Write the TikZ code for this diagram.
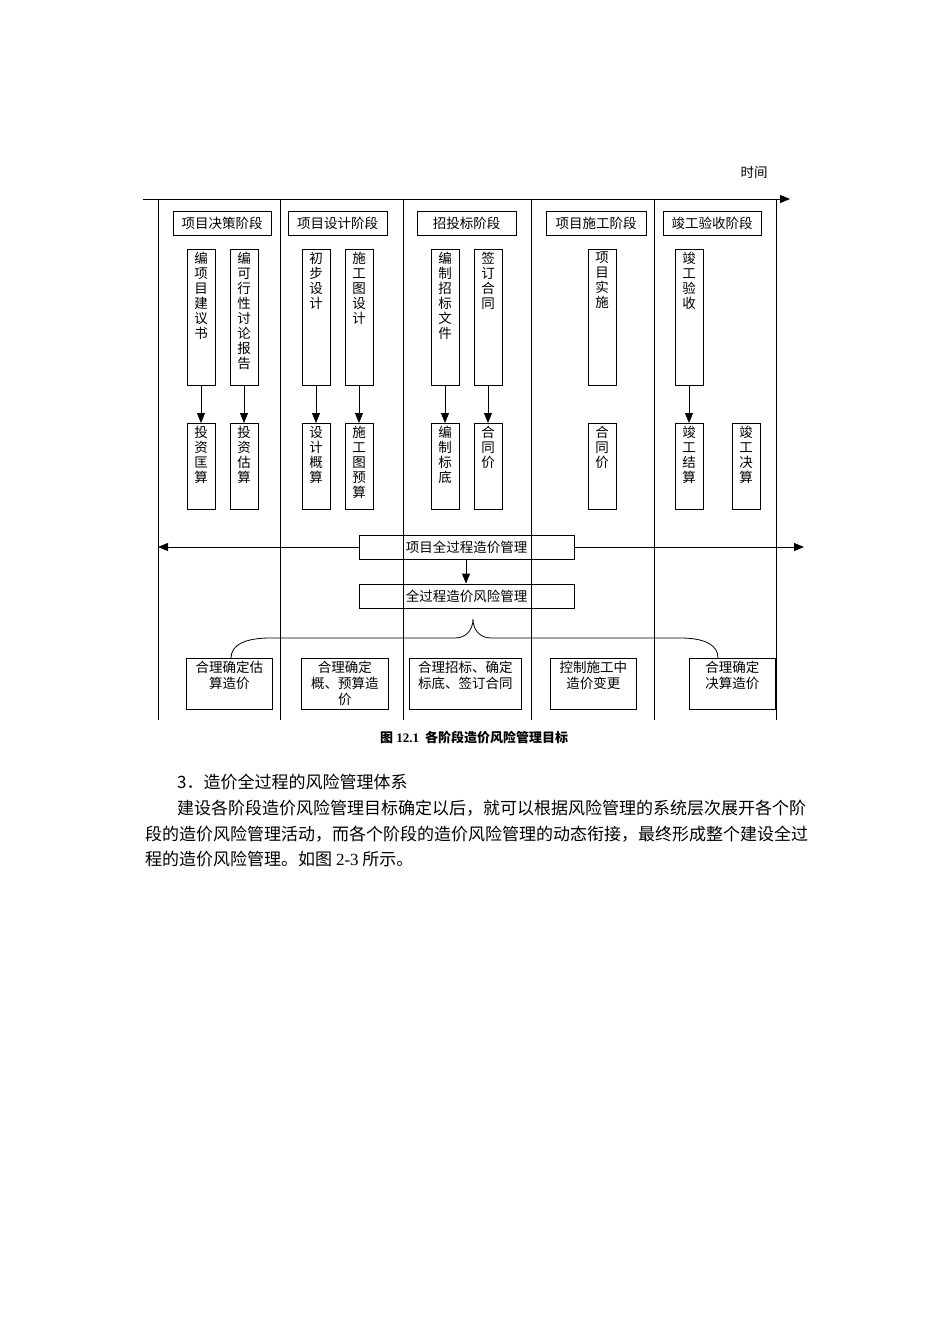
\documentclass[tikz,border=0pt]{standalone}
\usepackage{fontspec}
\setmainfont{Liberation Serif}
\newfontfamily\cjk{Noto Sans CJK SC}
\usetikzlibrary{arrows.meta}
\begin{document}
\begin{tikzpicture}[x=1pt,y=-1pt,
  lbl/.style={draw,thick,minimum height=24pt,font=\cjk\fontsize{13.5}{15}\selectfont,inner sep=1pt},
  col/.style={draw,thick,minimum width=28pt,anchor=north,font=\cjk\fontsize{13.5}{15}\selectfont,align=center,inner sep=0pt},
  goal/.style={draw,thick,minimum height=51pt,anchor=north west},
  goaltxt/.style={anchor=north,font=\cjk\fontsize{13.5}{16}\selectfont,align=center,inner sep=0pt},
  arr/.style={-{Triangle[length=10pt,width=8pt]},thick},
  txt/.style={font=\cjk\fontsize{17}{20}\selectfont,anchor=west,inner sep=0pt}]
\useasboundingbox (0,0) rectangle (950,1344);
% axes
\coordinate (tl) at (143,199); \coordinate (tr) at (790,199);
\draw[arr] (tl) -- (tr);
\node[font=\cjk\fontsize{13.5}{15}\selectfont] (time) at (754,172) {时间};
\foreach \x/\n in {158/v0,280/v1,403/v2,531/v3,654/v4,776/v5}{
  \coordinate (\n a) at (\x,199); \coordinate (\n b) at (\x,720);
  \draw[thick] (\n a) -- (\n b);}
% phase headers
\node[lbl,minimum width=98pt] (p1) at (222,223) {项目决策阶段};
\node[lbl,minimum width=99pt] (p2) at (337.5,223) {项目设计阶段};
\node[lbl,minimum width=99pt] (p3) at (466.5,223) {招投标阶段};
\node[lbl,minimum width=100pt] (p4) at (596,223) {项目施工阶段};
\node[lbl,minimum width=98pt] (p5) at (712,223) {竣工验收阶段};
% top column boxes
\foreach \x/\n/\t in {201/a1/{编\\项\\目\\建\\议\\书},244/a2/{编\\可\\行\\性\\讨\\论\\报\\告},316/a3/{初\\步\\设\\计},359/a4/{施\\工\\图\\设\\计},445/a5/{编\\制\\招\\标\\文\\件},488/a6/{签\\订\\合\\同},602/a7/{项\\目\\实\\施},689/a8/{竣\\工\\验\\收}}{
  \node[col,minimum height=136pt] (\n) at (\x,249) {};
  \node[anchor=north,font=\cjk\fontsize{13.5}{15}\selectfont,align=center,inner sep=0pt] at (\x,252) {\t};}
\foreach \x/\n/\t in {201/b1/{投\\资\\匡\\算},244/b2/{投\\资\\估\\算},316/b3/{设\\计\\概\\算},359/b4/{施\\工\\图\\预\\算},445/b5/{编\\制\\标\\底},488/b6/{合\\同\\价},602/b7/{合\\同\\价},689/b8/{竣\\工\\结\\算},746/b9/{竣\\工\\决\\算}}{
  \node[col,minimum height=86pt] (\n) at (\x,423) {};
  \node[anchor=north,font=\cjk\fontsize{13.5}{15}\selectfont,align=center,inner sep=0pt] at (\x,426) {\t};}
\foreach \i in {1,2,3,4,5,6,8}{\draw[arr] (a\i.south) -- (b\i.north);}
% management
\node[lbl,minimum width=215pt] (m1) at (466.5,547) {项目全过程造价管理};
\node[lbl,minimum width=215pt] (m2) at (466.5,596) {全过程造价风险管理};
\coordinate (hl) at (158,547); \coordinate (hr) at (804,547);
\draw[arr] (m1.west) -- (hl);
\draw[arr] (m1.east) -- (hr);
\draw[arr] (m1.south -| 466,0) -- (m2.north -| 466,0);
% goals
\node[goal,minimum width=86pt] (g1) at (186,658) {};
\node[goal,minimum width=87pt] (g2) at (301,658) {};
\node[goal,minimum width=112pt] (g3) at (409,658) {};
\node[goal,minimum width=86pt] (g4) at (550,658) {};
\node[goal,minimum width=86pt] (g5) at (689,658) {};
\node[goaltxt] at (g1.north) [yshift=-3pt] {合理确定估\\算造价};
\node[goaltxt] at (g2.north) [yshift=-3pt] {合理确定\\概、预算造\\价};
\node[goaltxt] at (g3.north) [yshift=-3pt] {合理招标、确定\\标底、签订合同};
\node[goaltxt] at (g4.north) [yshift=-3pt] {控制施工中\\造价变更};
\node[goaltxt] at (g5.north) [yshift=-3pt] {合理确定\\决算造价};
% brace
\coordinate (bt) at (473,619);
\draw[thick] (231,658) .. controls (231,645) and (245,638) .. (270,638) -- (455,638)
  .. controls (466,638) and (473,630) .. (bt)
  .. controls (473,630) and (480,638) .. (491,638) -- (680,638)
  .. controls (705,638) and (718,645) .. (718,658);
% caption
\node[font=\bfseries\fontsize{13}{15}\selectfont] (cap) at (474,738) {{\cjk\bfseries 图} 12.1\hspace{6pt}{\cjk\bfseries 各阶段造价风险管理目标}};
% paragraph
\node[txt] (t0) at (177,782) {3．造价全过程的风险管理体系};
\node[txt] (t1) at (177,808) {\cjk 建设各阶段造价风险管理目标确定以后，就可以根据风险管理的系统层次展开各个阶};
\node[txt] (t2) at (145,834) {\cjk 段的造价风险管理活动，而各个阶段的造价风险管理的动态衔接，最终形成整个建设全过};
\node[txt] (t3) at (145,859) {\cjk 程的造价风险管理。如图 {\rmfamily 2-3} 所示。};
\end{tikzpicture}
\end{document}
